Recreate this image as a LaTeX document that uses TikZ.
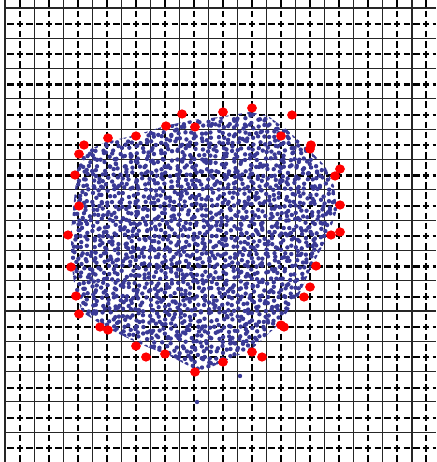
\documentclass[tikz,border=0pt]{standalone}
\usepackage{tikz}
\definecolor{partblue}{RGB}{58,58,150}

\begin{document}
\begin{tikzpicture}[x=1pt, y=-1pt, line join=round,
    cellline/.style={line width=1.1pt, black!85},
    hdash/.style={line width=2.2pt, black, dash pattern=on 6.4pt off 3.27pt, dash phase=7.56pt},
    vdash/.style={line width=2.2pt, black, dash pattern=on 6.7pt off 3.4pt, dash phase=9.67pt},
    particle/.style={fill=partblue},
    tracer/.style={fill=red}]
    \useasboundingbox (0,0) rectangle (436,462);

    % background grid
    \foreach \i in {0,...,14} {
        \draw[cellline] ({5+29.07*\i},0) -- ({5+29.07*\i},462);
        \draw[cellline] (5,{8+30.3*\i}) -- (436,{8+30.3*\i});
    }
    \foreach \i in {0,...,14} {
        \draw[vdash] ({20+29*\i},0) -- ({20+29*\i},462);
        \draw[hdash] (5,{24+30.3*\i}) -- (436,{24+30.3*\i});
    }

    % particles
    \pgfmathsetseed{7}
    \begin{scope}
        \clip (220,117) -- (250,112) -- (268,116) -- (286,129) -- (305,146)
            -- (325,166) -- (334,186) -- (337,210) -- (328,236) -- (312,266)
            -- (298,297) -- (278,325) -- (252,349) -- (225,361) -- (200,372)
            -- (170,356) -- (140,344) -- (105,327) -- (82,312) -- (75,290)
            -- (71,260) -- (71,232) -- (74,200) -- (77,170) -- (84,152)
            -- (106,142) -- (136,135) -- (165,126) -- (192,120) -- cycle;
        \foreach \i in {0,...,54} {
            \foreach \j in {0,...,52} {
                \fill[particle] ({64+5.2*\i+5.2*rnd},{104+5.2*\j+5.2*rnd}) circle (2.2pt);
            }
        }
    \end{scope}
    \fill[particle] (240,376) circle (2.2pt);
    \fill[particle] (197,402) circle (2.2pt);

    % boundary markers
    \foreach \p in {(182,114), (195,127), (166,126), (136,136), (108,138),
        (84,145), (79,154), (75,175), (79,206), (68,235), (71,267), (76,296),
        (79,314), (100,327), (108,330), (136,346), (146,357), (165,354),
        (195,372), (223,362), (252,352), (262,357), (281,325), (284,327),
        (304,297), (310,287), (316,266), (331,235), (340,232), (340,205),
        (335,176), (340,169), (310,149), (311,145), (281,136), (292,115),
        (252,108), (223,112)}
        \fill[tracer] \p ellipse (4.9pt and 4.6pt);
\end{tikzpicture}
\end{document}
